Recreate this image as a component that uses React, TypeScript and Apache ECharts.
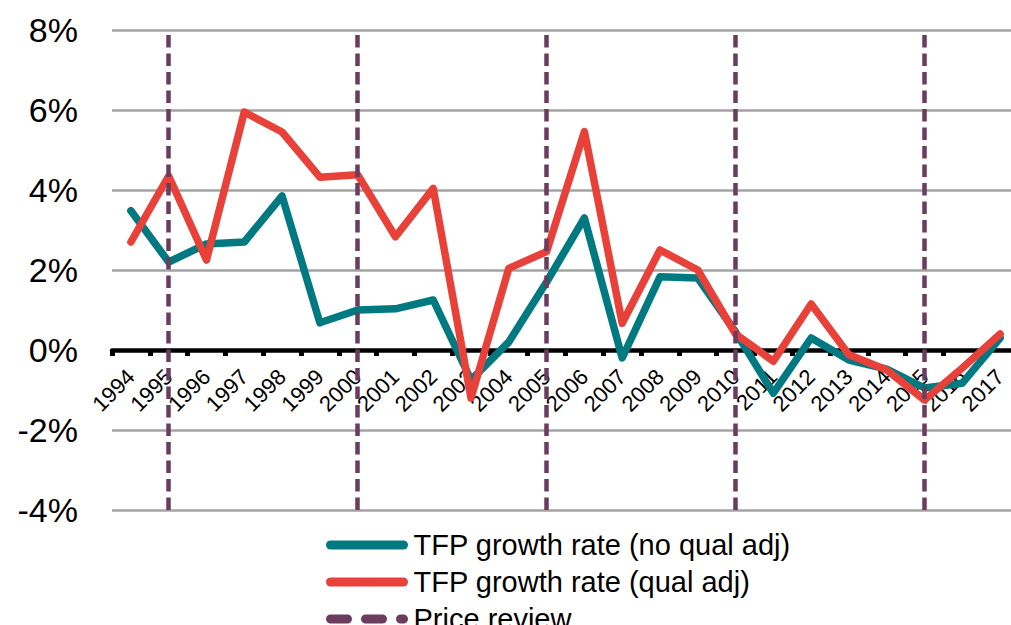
import React, { useEffect, useRef } from "react";
import * as echarts from "echarts";

// Years on the category axis
const years = [
  "1994", "1995", "1996", "1997", "1998", "1999", "2000", "2001",
  "2002", "2003", "2004", "2005", "2006", "2007", "2008", "2009",
  "2010", "2011", "2012", "2013", "2014", "2015", "2016", "2017",
];

// TFP growth rate, % per year
const tfpNoQualAdj = [
  3.48, 2.2, 2.65, 2.7, 3.85, 0.68, 1.0, 1.03,
  1.25, -0.75, 0.2, 1.7, 3.3, -0.2, 1.83, 1.8,
  0.45, -1.08, 0.3, -0.25, -0.48, -0.95, -0.83, 0.3,
];
const tfpQualAdj = [
  2.7, 4.35, 2.25, 5.95, 5.45, 4.32, 4.38, 2.83,
  4.04, -1.2, 2.04, 2.46, 5.46, 0.67, 2.5, 2.0,
  0.4, -0.28, 1.15, -0.12, -0.5, -1.25, -0.45, 0.4,
];

// Years in which a price review took place
const priceReviewYears = ["1995", "2000", "2005", "2010", "2015"];

// Value axis range, in %
const yMin = -4;
const yMax = 8;
const yStep = 2;

const TEAL = "#007A80";
const RED = "#E8413A";
const PURPLE = "#6A3D5E";
const FONT = "'Liberation Sans', Arial, sans-serif";

const GRID_TOP = 30;
const GRID_BOTTOM = 115;
const CHART_H = 625;

export default function App() {
  const ref = useRef<HTMLDivElement>(null);

  useEffect(() => {
    if (!ref.current) return;
    const chart = echarts.init(ref.current, null, { renderer: "svg" });

    // Lift the category axis (line, ticks and labels) up to the 0% level
    const gridHeight = CHART_H - GRID_TOP - GRID_BOTTOM;
    const zeroOffset = -((0 - yMin) / (yMax - yMin)) * gridHeight;

    chart.setOption({
      animation: false,
      backgroundColor: "#ffffff",
      textStyle: { fontFamily: FONT },
      grid: {
        left: 112,
        right: -8,
        top: GRID_TOP,
        bottom: GRID_BOTTOM,
        containLabel: false,
        outerBoundsMode: "none",
      },
      legend: {
        orient: "vertical",
        left: 326,
        top: 530,
        padding: 0,
        height: 200,
        itemWidth: 73,
        itemHeight: 10,
        itemGap: 7,
        selectedMode: false,
        textStyle: {
          fontSize: 29,
          lineHeight: 30,
          color: "#000",
          fontFamily: FONT,
          padding: [0, 0, 0, 5],
        },
        lineStyle: { width: 9, cap: "round" },
        data: [
          { name: "TFP growth rate (no qual adj)" },
          { name: "TFP growth rate (qual adj)" },
          {
            name: "Price review",
            lineStyle: { type: [17, 18], cap: "round", width: 9, color: PURPLE },
          },
        ],
      },
      xAxis: {
        type: "category",
        data: years,
        boundaryGap: true,
        position: "bottom",
        offset: zeroOffset,
        axisLine: {
          show: true,
          onZero: false,
          lineStyle: { color: "#000", width: 4.5 },
        },
        axisTick: {
          show: true,
          interval: 0,
          length: 6,
          lineStyle: { color: "#000", width: 5 },
        },
        axisLabel: {
          interval: 0,
          rotate: 45,
          margin: 23,
          verticalAlign: "middle",
          align: "right",
          fontSize: 22,
          color: "#000",
          fontFamily: FONT,
        },
        splitLine: { show: false },
      },
      yAxis: {
        type: "value",
        min: yMin,
        max: yMax,
        interval: yStep,
        axisLine: { show: false },
        axisTick: { show: false },
        axisLabel: {
          formatter: "{value}%",
          fontSize: 34,
          margin: 34,
          color: "#000",
          fontFamily: FONT,
        },
        splitLine: { lineStyle: { color: "#A3A3A3", width: 2.5 } },
      },
      series: [
        {
          name: "TFP growth rate (no qual adj)",
          type: "line",
          data: tfpNoQualAdj,
          symbol: "none",
          color: TEAL,
          lineStyle: { color: TEAL, width: 7.5, join: "round", cap: "round" },
          z: 2,
        },
        {
          name: "TFP growth rate (qual adj)",
          type: "line",
          data: tfpQualAdj,
          symbol: "none",
          color: RED,
          lineStyle: { color: RED, width: 7.5, join: "round", cap: "round" },
          z: 3,
        },
        {
          name: "Price review",
          type: "line",
          data: [],
          symbol: "none",
          color: PURPLE,
          lineStyle: { color: PURPLE, width: 4.5, type: [12.5, 6] },
          z: 5,
          markLine: {
            silent: true,
            symbol: ["none", "none"],
            label: { show: false },
            lineStyle: { color: PURPLE, width: 4.5, type: [12.5, 6] },
            data: priceReviewYears.map((y) => ({ xAxis: y })),
          },
        },
      ],
    });
    return () => chart.dispose();
  }, []);

  return (
    <div
      ref={ref}
      style={{ position: "fixed", left: 0, top: 0, width: 1011, height: 625 }}
    />
  );
}
